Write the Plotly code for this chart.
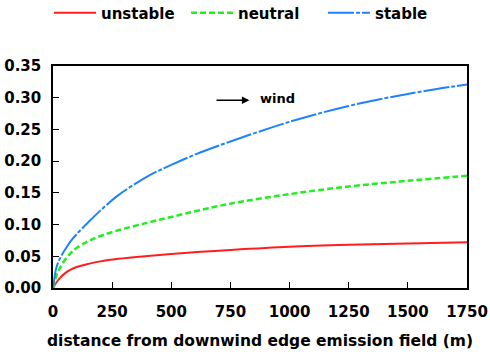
import plotly.graph_objects as go

distance = [0, 15, 30, 50, 75, 100, 150, 200, 275, 400, 500, 625, 750, 1000, 1250, 1500, 1750]
unstable = [0, 0.009, 0.016, 0.023, 0.029, 0.033, 0.038, 0.042, 0.046, 0.0505, 0.0535, 0.057, 0.060, 0.065, 0.068, 0.070, 0.072]
neutral = [0, 0.020, 0.032, 0.044, 0.055, 0.063, 0.074, 0.082, 0.091, 0.103, 0.112, 0.123, 0.133, 0.148, 0.160, 0.169, 0.177]
stable = [0, 0.033, 0.047, 0.060, 0.074, 0.085, 0.104, 0.122, 0.146, 0.176, 0.194, 0.214, 0.231, 0.262, 0.287, 0.306, 0.321]

x_ticks = [0, 250, 500, 750, 1000, 1250, 1500, 1750]
y_ticks = [0.00, 0.05, 0.10, 0.15, 0.20, 0.25, 0.30, 0.35]

FONT = "DejaVu Sans"

fig = go.Figure()
fig.add_trace(go.Scatter(x=distance, y=unstable, name="unstable", mode="lines",
                         line=dict(color="#ff1e1e", width=2, shape="spline")))
fig.add_trace(go.Scatter(x=distance, y=neutral, name="neutral", mode="lines",
                         line=dict(color="#22ee22", width=2.5, dash="6px,3px", shape="spline")))
fig.add_trace(go.Scatter(x=distance, y=stable, name="stable", mode="lines",
                         line=dict(color="#1e82ff", width=2, dash="26px,2px,4px,2px", shape="spline")))

fig.add_annotation(x=830, y=0.296, ax=685, ay=0.296, xref="x", yref="y", axref="x", ayref="y",
                   text="", showarrow=True, arrowhead=2, arrowwidth=1.5, arrowcolor="black")
fig.add_annotation(x=867, y=0.298, xref="x", yref="y", text="wind", showarrow=False,
                   xanchor="left", font=dict(family=FONT, size=13, color="black", weight="bold"))

fig.update_layout(
    width=490, height=352,
    margin=dict(l=53, r=23, t=66, b=64),
    paper_bgcolor="white", plot_bgcolor="white",
    font=dict(family=FONT, size=15, color="black", weight="bold"),
    showlegend=True,
    legend=dict(orientation="h", xref="container", x=0.100, xanchor="left",
                yref="container", y=0.963, yanchor="middle", itemwidth=42,
                font=dict(family=FONT, size=15, weight="bold"), entrywidth=80, entrywidthmode="pixels",
                bgcolor="rgba(0,0,0,0)"),
    xaxis=dict(range=[0, 1750], tickvals=x_ticks, ticktext=[str(v) for v in x_ticks],
               ticks="inside", ticklen=6, tickcolor="black", showgrid=False, zeroline=False,
               showline=True, linecolor="black", linewidth=1.5, mirror=True, automargin=False,
               ticklabelstandoff=9,
               title=dict(text="distance from downwind edge emission field (m)", standoff=15,
                          font=dict(family=FONT, size=15.5, weight="bold"))),
    yaxis=dict(range=[0, 0.35], tickvals=y_ticks, ticktext=[f"{v:.2f}" for v in y_ticks],
               ticks="inside", ticklen=6, tickcolor="black", showgrid=False, zeroline=False,
               showline=True, linecolor="black", linewidth=1.5, mirror=True, automargin=False,
               ticklabelstandoff=7),
)

fig.write_html("out.html")
